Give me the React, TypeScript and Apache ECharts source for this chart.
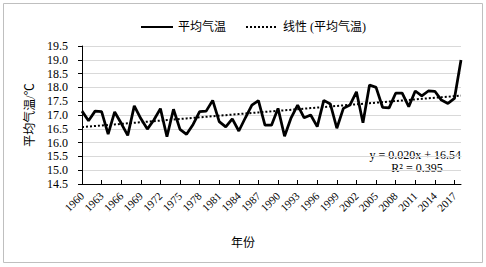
import React, { useEffect, useRef } from "react";
import * as echarts from "echarts";

const years: string[] = [
  "1960","1961","1962","1963","1964","1965","1966","1967","1968","1969",
  "1970","1971","1972","1973","1974","1975","1976","1977","1978","1979",
  "1980","1981","1982","1983","1984","1985","1986","1987","1988","1989",
  "1990","1991","1992","1993","1994","1995","1996","1997","1998","1999",
  "2000","2001","2002","2003","2004","2005","2006","2007","2008","2009",
  "2010","2011","2012","2013","2014","2015","2016","2017","2018",
];

const avgTemp: number[] = [
  17.14, 16.79, 17.14, 17.12, 16.31, 17.11, 16.70, 16.26, 17.33, 16.87,
  16.49, 16.82, 17.23, 16.21, 17.21, 16.48, 16.30, 16.66, 17.12, 17.14,
  17.53, 16.76, 16.57, 16.86, 16.42, 16.90, 17.36, 17.52, 16.63, 16.63,
  17.24, 16.23, 16.90, 17.36, 16.90, 17.00, 16.58, 17.53, 17.40, 16.52,
  17.24, 17.36, 17.84, 16.72, 18.09, 18.00, 17.28, 17.26, 17.79, 17.79,
  17.30, 17.87, 17.69, 17.87, 17.86, 17.54, 17.42, 17.60, 18.99,
];

const seriesNames: string[] = ["平均气温", "线性 (平均气温)"];
const equationText = "y = 0.020x + 16.54";
const r2Text = "R² = 0.395";
const xAxisName = "年份";
const yAxisName = "平均气温/℃";

function linearFit(vals: number[]): number[] {
  const n = vals.length;
  let sx = 0, sy = 0, sxx = 0, sxy = 0;
  vals.forEach((v, i) => {
    const x = i + 1;
    sx += x; sy += v; sxx += x * x; sxy += x * v;
  });
  const slope = (n * sxy - sx * sy) / (n * sxx - sx * sx);
  const intercept = (sy - slope * sx) / n;
  return vals.map((_, i) => +(slope * (i + 1) + intercept).toFixed(4));
}

const SERIF = "Liberation Serif, serif";
const MIXED = "Liberation Serif, Noto Sans CJK SC, serif";

export default function App() {
  const ref = useRef<HTMLDivElement>(null);
  useEffect(() => {
    if (!ref.current) return;
    const chart = echarts.init(ref.current, undefined, { renderer: "svg" });
    const trend = linearFit(avgTemp);
    chart.setOption({
      animation: false,
      backgroundColor: "#ffffff",
      textStyle: { fontFamily: MIXED, color: "#000" },
      legend: {
        top: 16,
        left: 135,
        itemWidth: 32,
        itemHeight: 14,
        itemGap: 19,
        itemStyle: { opacity: 0, borderWidth: 0 },
        textStyle: { fontFamily: MIXED, fontSize: 12, color: "#000" },
        data: seriesNames,
      },
      grid: { left: 82, right: 25, top: 46, bottom: 83, containLabel: false },
      xAxis: {
        type: "category",
        data: years,
        boundaryGap: false,
        axisLine: { lineStyle: { color: "#000", width: 1 } },
        axisTick: { show: true, inside: true, length: 4, interval: 2, lineStyle: { color: "#000" } },
        axisLabel: {
          interval: 2,
          rotate: 45,
          margin: 10,
          fontFamily: SERIF,
          fontSize: 11,
          color: "#000",
        },
        splitLine: { show: false },
      },
      yAxis: {
        type: "value",
        min: 14.5,
        max: 19.5,
        interval: 0.5,
        name: yAxisName,
        nameLocation: "middle",
        nameGap: 44,
        nameRotate: 90,
        nameTextStyle: { fontFamily: MIXED, fontSize: 12, color: "#000" },
        axisLine: { show: true, lineStyle: { color: "#000", width: 1 } },
        axisTick: { show: true, length: 4, lineStyle: { color: "#000" } },
        axisLabel: {
          margin: 14,
          fontFamily: SERIF,
          fontSize: 12,
          color: "#000",
          formatter: (v: number) => v.toFixed(1),
        },
        splitLine: { show: true, lineStyle: { color: "#d9d9d9", width: 1 } },
      },
      series: [
        {
          name: seriesNames[0],
          type: "line",
          data: avgTemp,
          symbol: "none",
          lineStyle: { color: "#000", width: 2.75 },
          itemStyle: { color: "#000" },
          z: 3,
        },
        {
          name: seriesNames[1],
          type: "line",
          data: trend,
          symbol: "none",
          lineStyle: { color: "#000", width: 2, type: [2, 2] },
          itemStyle: { color: "#000" },
          z: 2,
        },
      ],
      graphic: [
        {
          type: "rect",
          shape: { x: 3.5, y: 3.5, width: 479, height: 259 },
          style: { fill: "none", stroke: "#bfbfbf", lineWidth: 1 },
          silent: true,
          z: -1,
        },
        {
          type: "text",
          x: 243,
          y: 243,
          style: {
            text: xAxisName,
            fontFamily: MIXED,
            fontSize: 12,
            fill: "#000",
            align: "center",
            verticalAlign: "middle",
          },
        },
        {
          type: "text",
          x: 461,
          y: 155,
          style: {
            text: equationText,
            fontFamily: SERIF,
            fontSize: 12,
            fill: "#000",
            align: "right",
            verticalAlign: "middle",
          },
        },
        {
          type: "text",
          x: 417,
          y: 168,
          style: {
            text: r2Text,
            fontFamily: SERIF,
            fontSize: 12,
            fill: "#000",
            align: "center",
            verticalAlign: "middle",
          },
        },
      ],
    });
    return () => chart.dispose();
  }, []);
  return (
    <div
      ref={ref}
      style={{ position: "fixed", left: 0, top: 0, width: 486, height: 267 }}
    />
  );
}
